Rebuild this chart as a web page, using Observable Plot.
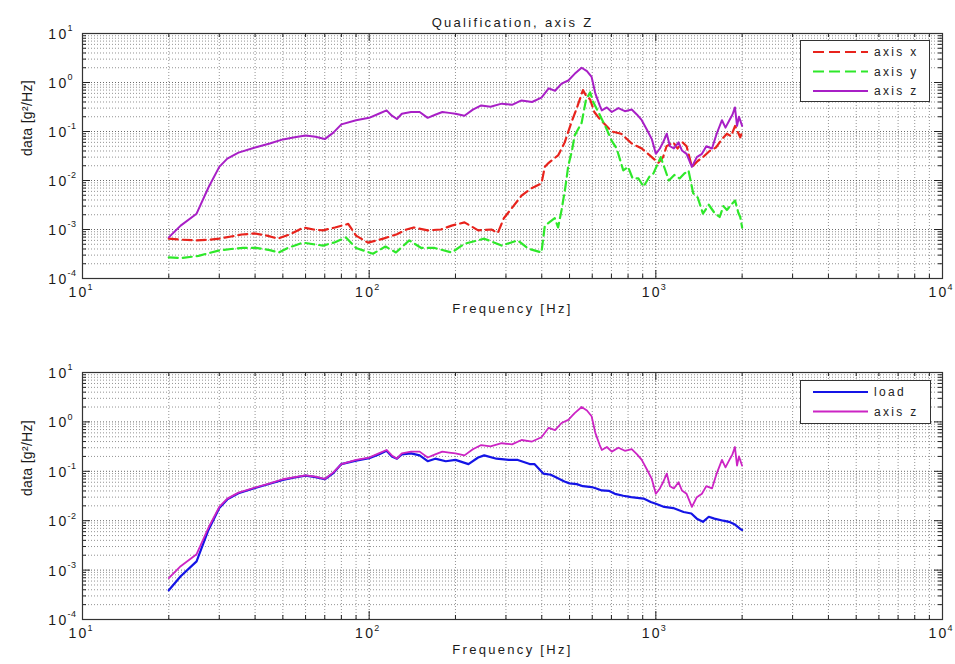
<!DOCTYPE html>
<html>
<head>
<meta charset="utf-8">
<script src="https://cdn.jsdelivr.net/npm/d3@7"></script>
<script src="https://cdn.jsdelivr.net/npm/@observablehq/plot@0.6"></script>
<style>
  html, body { margin: 0; padding: 0; background: #fff; overflow: hidden; }
  #wrap { position: relative; width: 955px; height: 664px; font-family: "Liberation Sans", Arial, sans-serif; }
  .legend { position: absolute; background: #fff; border: 1px solid #333; box-sizing: border-box; }
  .legend svg { display: block; }
</style>
</head>
<body>
<div id="wrap"></div>
<script>
// ---------- data ----------
const titleText = "Qualification, axis Z";
const xLabelText = "Frequency [Hz]";
const yLabelText = "data [g²/Hz]";

const xMajor = [10, 100, 1000, 10000];
const xTickExp = ["1", "2", "3", "4"];
const yMajor = [1e-4, 1e-3, 1e-2, 1e-1, 1, 10];
const yTickExp = ["-4", "-3", "-2", "-1", "0", "1"];

// axis z (magenta) — same series in both panels
const freqZ = [20, 22, 25, 27.5, 30, 32, 35, 40, 45, 50, 55, 60, 65, 70, 75, 80, 90, 100, 108, 115, 120, 125, 130, 140, 150, 160, 170, 180, 190, 200, 215, 230, 246, 265, 290, 315, 340, 370, 399, 423, 445, 469, 495, 521, 551, 575, 597, 615, 637, 648, 675, 702, 740, 780, 824, 860, 893, 930, 968, 1000, 1033, 1060, 1092, 1120, 1156, 1200, 1233, 1280, 1336, 1390, 1448, 1500, 1570, 1630, 1701, 1750, 1815, 1850, 1888, 1920, 1950, 2000];
const axisZ = [6.9e-4, 1.2e-3, 2.1e-3, 7.2e-3, 0.019, 0.028, 0.037, 0.047, 0.057, 0.069, 0.076, 0.083, 0.078, 0.070, 0.095, 0.14, 0.17, 0.19, 0.23, 0.27, 0.21, 0.18, 0.23, 0.25, 0.25, 0.19, 0.22, 0.25, 0.24, 0.23, 0.21, 0.28, 0.34, 0.32, 0.37, 0.35, 0.43, 0.40, 0.49, 0.76, 0.68, 0.95, 1.1, 1.5, 2.0, 1.7, 1.3, 0.6, 0.34, 0.27, 0.31, 0.25, 0.30, 0.26, 0.28, 0.22, 0.17, 0.11, 0.07, 0.035, 0.045, 0.06, 0.09, 0.05, 0.045, 0.06, 0.041, 0.035, 0.019, 0.03, 0.035, 0.05, 0.045, 0.09, 0.17, 0.12, 0.18, 0.22, 0.31, 0.13, 0.2, 0.13];

// axis x (red, dashed)
const freqX = [20, 22, 25, 28, 30, 33, 36, 40, 44, 48, 53, 59, 64, 69, 76, 84.5, 90, 99, 112, 125, 135, 143, 160, 178, 194, 215, 240, 267, 281, 295, 320, 340, 367, 399, 410, 423, 457, 481, 507, 534, 557, 570, 590, 610, 637, 702, 757, 824, 893, 968, 1020, 1060, 1090, 1150, 1190, 1240, 1280, 1336, 1400, 1460, 1540, 1620, 1700, 1770, 1830, 1890, 1970, 2000];
const axisX = [6.5e-4, 6.2e-4, 6.0e-4, 6.2e-4, 6.5e-4, 7.2e-4, 7.9e-4, 8.3e-4, 7.5e-4, 6.5e-4, 8.0e-4, 1.1e-3, 1.0e-3, 9.6e-4, 1.1e-3, 1.3e-3, 7.5e-4, 5.4e-4, 6.5e-4, 8.0e-4, 1.0e-3, 1.1e-3, 9.6e-4, 1.0e-3, 1.2e-3, 1.4e-3, 9.6e-4, 1.0e-3, 8.5e-4, 1.7e-3, 3.1e-3, 4.9e-3, 6.9e-3, 8.7e-3, 0.019, 0.023, 0.033, 0.060, 0.15, 0.34, 0.70, 0.55, 0.45, 0.25, 0.18, 0.10, 0.09, 0.057, 0.045, 0.030, 0.023, 0.03, 0.05, 0.06, 0.045, 0.06, 0.05, 0.019, 0.025, 0.03, 0.04, 0.047, 0.07, 0.09, 0.08, 0.13, 0.076, 0.10];

// axis y (green, dashed)
const freqY = [20, 22, 25.4, 29.8, 33, 36.3, 40.3, 45, 48.4, 52, 58.7, 64, 69, 76, 83, 90, 103, 114, 124, 138, 152, 169, 194, 215, 252, 290, 330, 358, 399, 410, 444, 456, 469, 483, 495, 510, 521, 551, 570, 590, 605, 630, 670, 700, 730, 770, 800, 830, 870, 906, 950, 981, 1040, 1080, 1110, 1160, 1210, 1260, 1300, 1350, 1400, 1460, 1530, 1600, 1670, 1720, 1770, 1830, 1890, 1940, 1970, 2000];
const axisY = [2.7e-4, 2.6e-4, 2.9e-4, 3.7e-4, 4.0e-4, 4.2e-4, 4.2e-4, 3.8e-4, 3.4e-4, 4.2e-4, 5.4e-4, 5.0e-4, 4.7e-4, 5.5e-4, 6.9e-4, 4.2e-4, 3.2e-4, 4.5e-4, 3.4e-4, 6.0e-4, 4.2e-4, 4.2e-4, 3.4e-4, 5.1e-4, 6.5e-4, 4.7e-4, 6.0e-4, 4.1e-4, 3.4e-4, 1.2e-3, 1.7e-3, 1.1e-3, 2.5e-3, 7.0e-3, 0.020, 0.041, 0.083, 0.15, 0.43, 0.63, 0.40, 0.25, 0.12, 0.066, 0.045, 0.016, 0.019, 0.011, 0.011, 0.0075, 0.012, 0.014, 0.030, 0.016, 0.010, 0.013, 0.011, 0.014, 0.016, 0.0055, 0.0045, 0.0021, 0.0032, 0.0022, 0.0018, 0.0030, 0.0025, 0.0032, 0.0039, 0.0022, 0.0018, 0.0011];

// load (blue)
const freqLoad = [20, 22, 25, 27.5, 30, 32, 35, 40, 45, 50, 55, 60, 65, 70, 75, 80, 90, 100, 108, 115, 120, 125, 130, 140, 150, 160, 170, 185, 200, 222, 240, 252, 278, 307, 330, 363, 377, 405, 430, 450, 480, 500, 530, 557, 597, 620, 648, 688, 720, 770, 820, 906, 960, 1000, 1070, 1150, 1250, 1330, 1390, 1460, 1530, 1600, 1720, 1800, 1880, 1970, 2000];
const load = [3.9e-4, 7.5e-4, 1.5e-3, 6.5e-3, 0.018, 0.027, 0.036, 0.046, 0.056, 0.067, 0.075, 0.082, 0.076, 0.069, 0.092, 0.14, 0.165, 0.185, 0.22, 0.26, 0.20, 0.18, 0.22, 0.23, 0.21, 0.16, 0.18, 0.16, 0.17, 0.14, 0.19, 0.21, 0.18, 0.17, 0.17, 0.14, 0.14, 0.09, 0.085, 0.075, 0.062, 0.057, 0.055, 0.05, 0.048, 0.045, 0.041, 0.040, 0.035, 0.032, 0.030, 0.028, 0.024, 0.022, 0.019, 0.018, 0.015, 0.014, 0.011, 0.0095, 0.012, 0.011, 0.010, 0.0095, 0.0085, 0.0068, 0.0065];

const seriesNamesTop = ["axis x", "axis y", "axis z"];
const seriesNamesBottom = ["load", "axis z"];

// ---------- helpers ----------
const rows = (fs, vs) => fs.map((f, i) => ({f, v: vs[i]}));
const xMinor = xMajor.slice(0, -1).flatMap(d => [2,3,4,5,6,7,8,9].map(m => m * d));
const yMinor = yMajor.slice(0, -1).flatMap(d => [2,3,4,5,6,7,8,9].map(m => m * d));

const W = 955, ML = 82, MR = 13;

function panel({height, mt, mb, lineMarks, title}) {
  const fw = W - ML - MR, fh = height - mt - mb;
  const grid = {stroke: "#777", strokeDasharray: "1,2", strokeWidth: 0.8};
  const tk = {stroke: "#222", strokeWidth: 1};
  const marks = [
    Plot.ruleX(xMinor, grid),
    Plot.ruleY(yMinor, grid),
    Plot.ruleX(xMajor.slice(1, -1), {...grid, stroke: "#444"}),
    Plot.ruleY(yMajor.slice(1, -1), {...grid, stroke: "#444"}),
    ...lineMarks,
    Plot.ruleX(xMajor, {...tk, insetTop: fh - 8}),
    Plot.ruleX(xMajor, {...tk, insetBottom: fh - 8}),
    Plot.ruleX(xMinor, {...tk, insetTop: fh - 4}),
    Plot.ruleX(xMinor, {...tk, insetBottom: fh - 4}),
    Plot.ruleY(yMajor, {...tk, insetRight: fw - 8}),
    Plot.ruleY(yMajor, {...tk, insetLeft: fw - 8}),
    Plot.ruleY(yMinor, {...tk, insetRight: fw - 4}),
    Plot.ruleY(yMinor, {...tk, insetLeft: fw - 4}),
    Plot.frame({stroke: "#333", strokeWidth: 1.2}),
    // x tick labels 10^n
    Plot.text(xMajor, {x: d => d, text: () => "10", frameAnchor: "bottom", dy: 18, dx: -4, fontSize: 14}),
    Plot.text(xMajor, {x: d => d, text: (d, i) => xTickExp[i], frameAnchor: "bottom", dy: 11, dx: 5, textAnchor: "start", fontSize: 9}),
    // y tick labels 10^n
    Plot.text(yMajor, {y: d => d, text: () => "10", frameAnchor: "left", dx: -14, dy: 1, textAnchor: "end", fontSize: 14}),
    Plot.text(yMajor, {y: d => d, text: (d, i) => yTickExp[i], frameAnchor: "left", dx: -15, dy: -5, textAnchor: "start", fontSize: 9}),
    // axis labels
    Plot.text([xLabelText], {frameAnchor: "bottom", dy: 34, fontSize: 13}),
    Plot.text([yLabelText], {frameAnchor: "left", dx: -55, rotate: -90, fontSize: 14})
  ];
  if (title) marks.push(Plot.text([title], {frameAnchor: "top", dy: -16, fontSize: 13}));
  const svg = Plot.plot({
    width: W, height,
    marginLeft: ML, marginRight: MR, marginTop: mt, marginBottom: mb,
    style: "font-family: 'Liberation Sans', Arial, sans-serif; letter-spacing: 2.3px; color: #1a1a1a; background: #fff; display: block;",
    x: {type: "log", domain: [10, 10000], axis: null},
    y: {type: "log", domain: [1e-4, 10], axis: null},
    marks
  });
  d3.select(svg).selectAll("text").filter(function () { return this.textContent === yLabelText; })
    .attr("letter-spacing", "0.3px");
  d3.select(svg).selectAll("text").filter(function () {
    return xTickExp.includes(this.textContent) || yTickExp.includes(this.textContent);
  }).attr("letter-spacing", "0.5px");
  return svg;
}

const red = "#e8231c", green = "#2ee82a", magentaTop = "#a81fc6", magentaBot = "#cc24c4", blue = "#1414e6";

const topPanel = panel({
  height: 330, mt: 33, mb: 52, title: titleText,
  lineMarks: [
    Plot.line(rows(freqX, axisX), {x: "f", y: "v", stroke: red, strokeWidth: 2.2, strokeDasharray: "9,5"}),
    Plot.line(rows(freqY, axisY), {x: "f", y: "v", stroke: green, strokeWidth: 2.2, strokeDasharray: "9,5"}),
    Plot.line(rows(freqZ, axisZ), {x: "f", y: "v", stroke: magentaTop, strokeWidth: 2})
  ]
});
const bottomPanel = panel({
  height: 334, mt: 42, mb: 45,
  lineMarks: [
    Plot.line(rows(freqLoad, load), {x: "f", y: "v", stroke: blue, strokeWidth: 2.2}),
    Plot.line(rows(freqZ, axisZ), {x: "f", y: "v", stroke: magentaBot, strokeWidth: 1.8})
  ]
});

const wrap = document.getElementById("wrap");
wrap.appendChild(topPanel);
wrap.appendChild(bottomPanel);

function legend(left, topPx, w, h, entries) {
  const div = document.createElement("div");
  div.className = "legend";
  Object.assign(div.style, {left: left + "px", top: topPx + "px", width: w + "px", height: h + "px"});
  const rowH = 19.5;
  let s = `<svg width="${w - 2}" height="${h - 2}" style="font-family:'Liberation Sans',Arial,sans-serif;letter-spacing:2.3px">`;
  entries.forEach((e, i) => {
    const y = 11 + i * rowH;
    s += `<line x1="12" x2="67" y1="${y}" y2="${y}" stroke="${e.color}" stroke-width="2" ${e.dash ? `stroke-dasharray="${e.dash}"` : ""}/>`;
    s += `<text x="73" y="${y}" dy="0.35em" font-size="12" fill="#222">${e.name}</text>`;
  });
  s += "</svg>";
  div.innerHTML = s;
  wrap.appendChild(div);
}
legend(800, 40, 130, 62, [
  {name: seriesNamesTop[0], color: red, dash: "11,5"},
  {name: seriesNamesTop[1], color: green, dash: "11,5"},
  {name: seriesNamesTop[2], color: magentaTop}
]);
legend(800, 380, 131, 44, [
  {name: seriesNamesBottom[0], color: blue},
  {name: seriesNamesBottom[1], color: magentaBot}
]);
</script>
</body>
</html>
